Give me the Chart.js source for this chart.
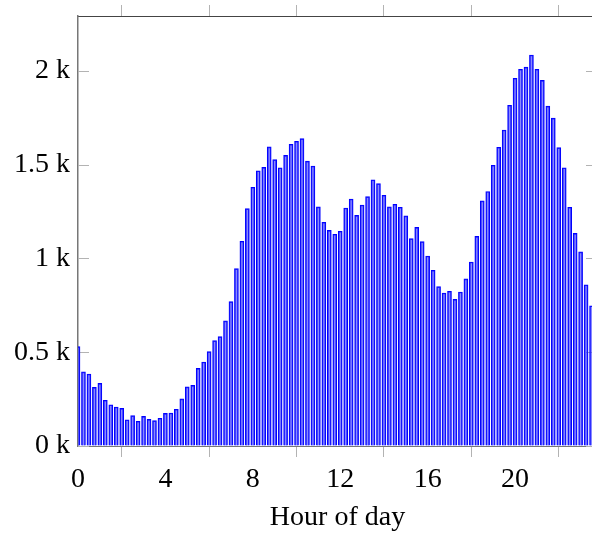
<!DOCTYPE html>
<html>
<head>
<meta charset="utf-8">
<script src="https://cdn.jsdelivr.net/npm/chart.js@4"></script>
<style>
  html, body { margin: 0; padding: 0; background: #fff; overflow: hidden; width: 592px; height: 534px; }
  #wrap { position: absolute; left: 0; top: 0; width: 608px; height: 534px; }
</style>
</head>
<body>
<div id="wrap"><canvas id="c" width="608" height="534"></canvas></div>
<script>
// Hour of day (15-minute bins)
const hours = [
  0, 0.25, 0.5, 0.75, 1, 1.25, 1.5, 1.75, 2, 2.25, 2.5, 2.75,
  3, 3.25, 3.5, 3.75, 4, 4.25, 4.5, 4.75, 5, 5.25, 5.5, 5.75,
  6, 6.25, 6.5, 6.75, 7, 7.25, 7.5, 7.75, 8, 8.25, 8.5, 8.75,
  9, 9.25, 9.5, 9.75, 10, 10.25, 10.5, 10.75, 11, 11.25, 11.5, 11.75,
  12, 12.25, 12.5, 12.75, 13, 13.25, 13.5, 13.75, 14, 14.25, 14.5, 14.75,
  15, 15.25, 15.5, 15.75, 16, 16.25, 16.5, 16.75, 17, 17.25, 17.5, 17.75,
  18, 18.25, 18.5, 18.75, 19, 19.25, 19.5, 19.75, 20, 20.25, 20.5, 20.75,
  21, 21.25, 21.5, 21.75, 22, 22.25, 22.5, 22.75, 23, 23.25, 23.5, 23.75
];
// Counts per bin
const counts = [
  530, 395, 384, 313, 334, 244, 220, 208, 201, 140, 162, 132,
  158, 142, 135, 148, 174, 176, 196, 251, 315, 323, 414, 448,
  503, 562, 583, 667, 770, 946, 1092, 1266, 1380, 1468, 1486, 1595,
  1527, 1484, 1550, 1609, 1625, 1639, 1519, 1493, 1275, 1193, 1150, 1129,
  1145, 1269, 1317, 1230, 1285, 1330, 1420, 1399, 1337, 1275, 1289, 1273,
  1227, 1106, 1166, 1090, 1013, 937, 850, 816, 825, 782, 821, 891,
  981, 1118, 1307, 1357, 1497, 1593, 1685, 1817, 1961, 2009, 2020, 2085,
  2009, 1950, 1812, 1748, 1591, 1484, 1273, 1134, 1035, 860, 748, 660
];
const xTicks = [0, 4, 8, 12, 16, 20];
const yTicks = [0, 500, 1000, 1500, 2000];
const xLabel = 'Hour of day';

const FONT = { family: "'Liberation Serif', 'DejaVu Serif', serif", size: 28 };
const TICKC = '#b3b3b3';

const innerTicks = {
  id: 'innerTicks',
  beforeDatasetsDraw(chart) {
    const { ctx, chartArea: a, scales: { y } } = chart;
    ctx.save();
    ctx.strokeStyle = TICKC;
    ctx.lineWidth = 1;
    yTicks.forEach(v => {
      const py = Math.round(y.getPixelForValue(v)) + 0.5;
      ctx.beginPath();
      ctx.moveTo(a.left, py); ctx.lineTo(a.left + 11, py);
      ctx.moveTo(a.right, py); ctx.lineTo(a.right - 11, py);
      ctx.stroke();
    });
    ctx.restore();
  }
};

const tickGen = (list) => (scale) => { scale.ticks = list.map(v => ({ value: v })); };
const fitV = (w) => (s) => { s.width = w; s.paddingTop = 0; s.paddingBottom = 0; };
const fitH = (h) => (s) => { s.height = h; s.paddingLeft = 0; s.paddingRight = 0; };

new Chart(document.getElementById('c'), {
  type: 'bar',
  data: {
    datasets: [{
      data: hours.map((h, i) => ({ x: h, y: counts[i] })),
      backgroundColor: 'rgba(60,60,255,0.6)',
      borderColor: '#0000ff',
      borderWidth: 1,
      barThickness: 4,
      clip: 0
    }]
  },
  options: {
    responsive: false,
    animation: false,
    events: [],
    layout: { padding: 0 },
    plugins: { legend: { display: false }, tooltip: { enabled: false } },
    scales: {
      x: {
        type: 'linear', position: 'bottom', min: 0, max: 23.75, offset: false,
        afterBuildTicks: tickGen(xTicks),
        afterFit: fitH(88),
        ticks: { font: FONT, color: '#000', padding: 6, maxRotation: 0, autoSkip: false },
        grid: { drawOnChartArea: false, tickLength: 11, tickColor: TICKC, tickWidth: 1 },
        border: { color: '#777', width: 1 },
        title: { display: true, text: xLabel, font: FONT, color: '#000', padding: { top: 0, bottom: 0 } }
      },
      x2: {
        type: 'linear', position: 'top', min: 0, max: 23.75, offset: false,
        afterBuildTicks: tickGen(xTicks),
        afterFit: fitH(16),
        ticks: { display: false },
        grid: { drawOnChartArea: false, tickLength: 11, tickColor: TICKC, tickWidth: 1 },
        border: { color: '#444', width: 1 }
      },
      y: {
        type: 'linear', position: 'left', min: 0, max: 2293,
        afterBuildTicks: tickGen(yTicks),
        afterFit: fitV(78),
        ticks: { font: FONT, color: '#000', padding: 8, callback: v => (v / 1000) + ' k' },
        grid: { drawOnChartArea: false, drawTicks: false },
        border: { color: '#777', width: 1.5 }
      },
      y2: {
        type: 'linear', position: 'right', min: 0, max: 2293,
        afterBuildTicks: tickGen(yTicks),
        afterFit: fitV(11),
        ticks: { display: false },
        grid: { drawOnChartArea: false, drawTicks: false },
        border: { color: '#777', width: 1.5 }
      }
    }
  },
  plugins: [innerTicks]
});
</script>
</body>
</html>
